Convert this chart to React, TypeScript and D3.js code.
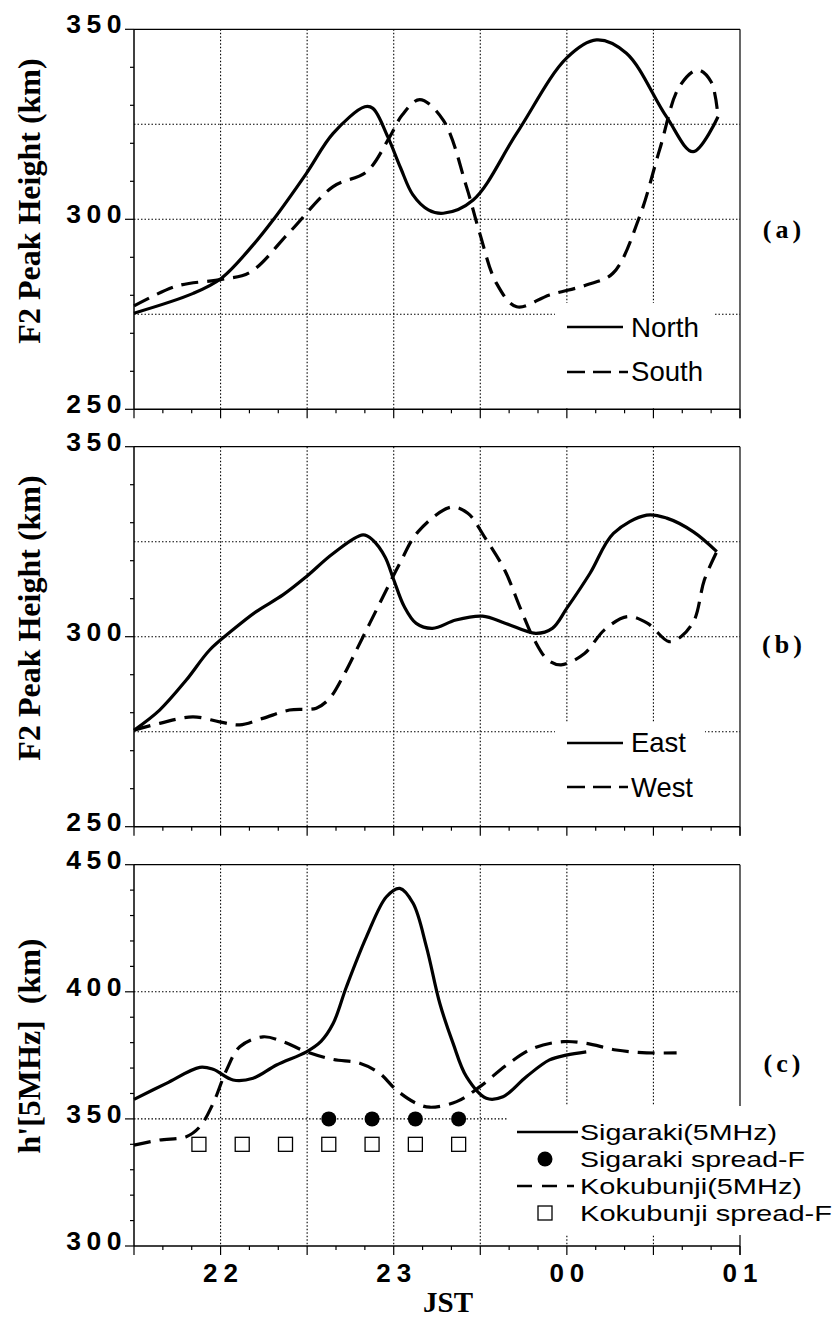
import React from "react";
import * as d3 from "d3";

// ---------- data ----------
const northT = [21.5, 21.842, 22.005, 22.187, 22.303, 22.496, 22.65, 22.833, 22.88, 22.966, 23.04, 23.11, 23.2, 23.286, 23.459, 23.71, 23.998, 24.171, 24.344, 24.575, 24.729, 24.873];
const northV = [275.3, 280.5, 284.5, 293.2, 299.8, 312.1, 322.6, 329.6, 329.2, 321.7, 313.5, 306.5, 302.5, 301.6, 305.1, 322.6, 342.4, 347.2, 343.7, 327, 317.8, 327];
const southT = [21.5, 21.745, 22.005, 22.168, 22.4, 22.65, 22.843, 22.977, 23.05, 23.15, 23.286, 23.42, 23.497, 23.593, 23.71, 23.9, 24.112, 24.266, 24.42, 24.535, 24.65, 24.756, 24.833, 24.873];
const southV = [277.2, 282.4, 284.2, 286, 296.7, 308.6, 312.5, 321.7, 327.5, 331.5, 326.1, 308.6, 296.3, 283.2, 277, 280.1, 282.7, 285.8, 300.7, 318.2, 334.9, 339.3, 336.2, 327];

const eastT = [21.5, 21.648, 21.802, 21.937, 22.071, 22.206, 22.36, 22.495, 22.65, 22.823, 22.88, 22.95, 23.0, 23.06, 23.13, 23.224, 23.359, 23.513, 23.647, 23.82, 23.916, 24.0, 24.134, 24.269, 24.461, 24.577, 24.731, 24.866];
const eastV = [275.4, 280.7, 288.6, 296.5, 301.8, 306.6, 311, 315.8, 321.9, 326.8, 325.4, 321, 315, 308, 303.5, 302.2, 304.4, 305.4, 303.5, 300.9, 302.2, 307.5, 316.7, 327.2, 332, 331.2, 327.6, 322.4];
const westT = [21.5, 21.648, 21.84, 21.994, 22.11, 22.244, 22.398, 22.553, 22.63, 22.707, 22.823, 22.938, 23.035, 23.14, 23.332, 23.428, 23.524, 23.64, 23.736, 23.813, 23.89, 23.967, 24.102, 24.217, 24.351, 24.467, 24.59, 24.659, 24.736, 24.794, 24.866];
const westV = [275.4, 277.2, 278.9, 277.6, 276.8, 278.5, 280.7, 281.2, 283.8, 289.5, 300, 310.5, 319.3, 327.6, 334.1, 332.5, 326.3, 317.6, 307, 299.1, 293.9, 292.6, 295.6, 301.8, 305.3, 303.5, 298.7, 300, 304.4, 314.9, 322.4];

const sigT = [21.5, 21.687, 21.88, 21.957, 22.072, 22.188, 22.323, 22.496, 22.58, 22.65, 22.727, 22.843, 22.958, 23.035, 23.112, 23.189, 23.266, 23.343, 23.42, 23.535, 23.631, 23.766, 23.9, 23.997, 24.112];
const sigV = [357.7, 364, 370.3, 369.5, 365.3, 366, 371.2, 376.4, 380.5, 387.5, 402, 421.7, 437.4, 440.7, 434.8, 417.7, 395.5, 379.7, 366.6, 358.1, 358.7, 366.6, 373.2, 375.1, 376.4];
const kokT = [21.5, 21.648, 21.802, 21.88, 21.957, 22.034, 22.111, 22.245, 22.361, 22.496, 22.65, 22.804, 22.919, 23.015, 23.131, 23.209, 23.363, 23.498, 23.652, 23.806, 23.979, 24.112, 24.285, 24.461, 24.634];
const kokV = [339.7, 341.7, 343, 346.9, 356.1, 369.2, 378.4, 382.3, 380.4, 376.4, 373.4, 371.9, 367.9, 361.4, 356.1, 354.6, 356.8, 362.7, 371.2, 377.8, 380.4, 379.7, 377.1, 376, 376];

const sigSpreadT = [22.625, 22.875, 23.125, 23.375];
const sigSpreadV = [350, 350, 350, 350];
const kokSpreadT = [21.875, 22.125, 22.375, 22.625, 22.875, 23.125, 23.375];
const kokSpreadV = [340, 340, 340, 340, 340, 340, 340];

const xTickValues = [22, 23, 24, 25];
const xTickLabels = ["22", "23", "00", "01"];
const yTicksAB = [250, 300, 350];
const yTicksC = [300, 350, 400, 450];

// ---------- layout ----------
const W = 835;
const H = 1321;
const X0 = 134;
const X1 = 740;
const SANS = "'Liberation Sans', Arial, sans-serif";
const SERIF = "'Liberation Serif', 'Times New Roman', serif";
const DASH = "17,9";

const x = d3.scaleLinear().domain([21.5, 25]).range([X0, X1]);

type PanelDef = {
  top: number;
  bottom: number;
  domain: [number, number];
  hGrid: number[];
  labels: number[];
  title: string;
  titleY: number;
  tag: string;
  tagY: number;
};

const panels: PanelDef[] = [
  { top: 29.3, bottom: 409.3, domain: [250, 350], hGrid: [275, 300, 325], labels: yTicksAB, title: "F2 Peak Height (km)", titleY: 201, tag: "(a)", tagY: 238 },
  { top: 446.7, bottom: 826.7, domain: [250, 350], hGrid: [275, 300, 325], labels: yTicksAB, title: "F2 Peak Height (km)", titleY: 618, tag: "(b)", tagY: 653 },
  { top: 864.7, bottom: 1246, domain: [300, 450], hGrid: [350, 400], labels: yTicksC, title: "h'[5MHz]\u00a0\u00a0(km)", titleY: 1046, tag: "(c)", tagY: 1072 },
];

function Axes({ p, y }: { p: PanelDef; y: d3.ScaleLinear<number, number> }) {
  const vGrid = d3.range(22, 25, 0.5);
  const yMinor = d3.range(p.domain[0], p.domain[1] + 0.1, 10);
  const xMinor = d3.range(0, 22).map((i) => 21.5 + i / 6);
  return (
    <g>
      {vGrid.map((t) => (
        <line key={"v" + t} x1={x(t)} x2={x(t)} y1={p.top} y2={p.bottom} stroke="#000" strokeWidth={1.1} strokeDasharray="1.5,2" />
      ))}
      {p.hGrid.map((v) => (
        <line key={"h" + v} x1={X0} x2={X1} y1={y(v)} y2={y(v)} stroke="#000" strokeWidth={1.1} strokeDasharray="1.5,2" />
      ))}
      {yMinor.map((v) => (
        <line key={"ym" + v} x1={v % 50 === 0 ? X0 - 9 : X0 - 4} x2={X0} y1={y(v)} y2={y(v)} stroke="#000" strokeWidth={1.2} />
      ))}
      {xMinor.map((t, i) => (
        <line key={"xm" + i} x1={x(t)} x2={x(t)} y1={p.bottom} y2={p.bottom + (i % 3 === 0 ? 9 : 4)} stroke="#000" strokeWidth={1.2} />
      ))}
      {p.labels.map((v) => (
        <text key={"yl" + v} x={X0 - 7} y={y(v) + 4} textAnchor="end" fontFamily={SANS} fontWeight="bold" fontSize={26.5} letterSpacing={5.5}>
          {v}
        </text>
      ))}
      <text
        transform={`translate(${40},${p.titleY}) rotate(-90)`}
        textAnchor="middle"
        fontFamily={SERIF}
        fontWeight="bold"
        fontSize={32}
        style={{ whiteSpace: "pre" }}
      >
        {p.title}
      </text>
      <text x={784} y={p.tagY} textAnchor="middle" fontFamily={SERIF} fontWeight="bold" fontSize={26} letterSpacing={4}>
        {p.tag}
      </text>
    </g>
  );
}

function Frame({ p }: { p: PanelDef }) {
  return (
    <g>
      <line x1={X0} x2={X1} y1={p.top} y2={p.top} stroke="#000" strokeWidth={1.2} />
      <line x1={X0} x2={X0} y1={p.top} y2={p.bottom} stroke="#000" strokeWidth={1.5} />
      <line x1={X0} x2={X1} y1={p.bottom} y2={p.bottom} stroke="#000" strokeWidth={1.5} />
    </g>
  );
}

function curve(ts: number[], vs: number[], y: d3.ScaleLinear<number, number>) {
  const pts: [number, number][] = ts.map((t, i) => [t, vs[i]]);
  return (
    d3
      .line<[number, number]>()
      .x((d) => x(d[0]))
      .y((d) => y(d[1]))
      .curve(d3.curveCatmullRom.alpha(0.5))(pts) || ""
  );
}

const legendFont = { fontFamily: SANS, fontSize: 22.5, lengthAdjust: "spacingAndGlyphs" as const };

export default function App() {
  const [pa, pb, pc] = panels;
  const ya = d3.scaleLinear().domain(pa.domain).range([pa.bottom, pa.top]);
  const yb = d3.scaleLinear().domain(pb.domain).range([pb.bottom, pb.top]);
  const yc = d3.scaleLinear().domain(pc.domain).range([pc.bottom, pc.top]);

  const lineStyle = { fill: "none", stroke: "#000", strokeWidth: 3.2, strokeLinejoin: "round" as const };

  return (
    <svg width={W} height={H} style={{ position: "absolute", left: 0, top: 0, background: "#fff" }}>
      <rect x={0} y={0} width={W} height={H} fill="#fff" />
      {/* Panel a */}
      <Axes p={pa} y={ya} />
      <rect x={555} y={303} width={160} height={105} fill="#fff" />
      <line x1={X1} x2={X1} y1={pa.top} y2={pa.bottom + 9} stroke="#000" strokeWidth={1.2} />
      <path d={curve(northT, northV, ya)} {...lineStyle} />
      <path d={curve(southT, southV, ya)} {...lineStyle} strokeDasharray={DASH} />
      <Frame p={pa} />
      <line x1={567} x2={623} y1={327} y2={327} stroke="#000" strokeWidth={2.6} />
      <text x={631} y={337} fontFamily={SANS} fontSize={28} textLength={68} lengthAdjust="spacingAndGlyphs">North</text>
      <line x1={567} x2={628} y1={372} y2={372} stroke="#000" strokeWidth={2.6} strokeDasharray="18,8" />
      <text x={631} y={381} fontFamily={SANS} fontSize={28} textLength={72} lengthAdjust="spacingAndGlyphs">South</text>

      {/* Panel b */}
      <Axes p={pb} y={yb} />
      <rect x={555} y={722} width={150} height={104} fill="#fff" />
      <line x1={X1} x2={X1} y1={pb.top} y2={pb.bottom + 9} stroke="#000" strokeWidth={1.2} />
      <path d={curve(eastT, eastV, yb)} {...lineStyle} />
      <path d={curve(westT, westV, yb)} {...lineStyle} strokeDasharray={DASH} />
      <Frame p={pb} />
      <line x1={567} x2={623} y1={743} y2={743} stroke="#000" strokeWidth={2.6} />
      <text x={631} y={752} fontFamily={SANS} fontSize={28} textLength={55} lengthAdjust="spacingAndGlyphs">East</text>
      <line x1={567} x2={628} y1={787} y2={787} stroke="#000" strokeWidth={2.6} strokeDasharray="18,8" />
      <text x={631} y={797} fontFamily={SANS} fontSize={28} textLength={62} lengthAdjust="spacingAndGlyphs">West</text>

      {/* Panel c */}
      <Axes p={pc} y={yc} />
      <line x1={X1} x2={X1} y1={pc.top} y2={pc.bottom + 9} stroke="#000" strokeWidth={1.2} />
      <rect x={507} y={1106} width={328} height={129} fill="#fff" />
      <path d={curve(sigT, sigV, yc)} {...lineStyle} />
      <path d={curve(kokT, kokV, yc)} {...lineStyle} strokeDasharray={DASH} />
      {sigSpreadT.map((t, i) => (
        <circle key={"s" + i} cx={x(t)} cy={yc(sigSpreadV[i])} r={7.5} fill="#000" />
      ))}
      {kokSpreadT.map((t, i) => (
        <rect key={"k" + i} x={x(t) - 7} y={yc(kokSpreadV[i]) - 7} width={14} height={14} fill="#fff" stroke="#000" strokeWidth={1.3} />
      ))}
      <Frame p={pc} />
      {xTickValues.map((t, i) => (
        <text key={"xl" + t} x={x(t) + 3} y={1282} textAnchor="middle" fontFamily={SANS} fontWeight="bold" fontSize={26} letterSpacing={6}>
          {xTickLabels[i]}
        </text>
      ))}
      <text x={448} y={1312} textAnchor="middle" fontFamily={SERIF} fontWeight="bold" fontSize={29}>JST</text>

      <line x1={517} x2={578} y1={1132} y2={1132} stroke="#000" strokeWidth={2.6} />
      <text x={580} y={1140} {...legendFont} textLength={197}>Sigaraki(5MHz)</text>
      <circle cx={545} cy={1159} r={7.5} fill="#000" />
      <text x={580} y={1167} {...legendFont} textLength={225}>Sigaraki spread-F</text>
      <line x1={517} x2={574} y1={1186} y2={1186} stroke="#000" strokeWidth={2.6} strokeDasharray="15,10" />
      <text x={580} y={1194} {...legendFont} textLength={222}>Kokubunji(5MHz)</text>
      <rect x={538} y={1206} width={14} height={14} fill="#fff" stroke="#000" strokeWidth={1.3} />
      <text x={580} y={1221} {...legendFont} textLength={252}>Kokubunji spread-F</text>
    </svg>
  );
}
